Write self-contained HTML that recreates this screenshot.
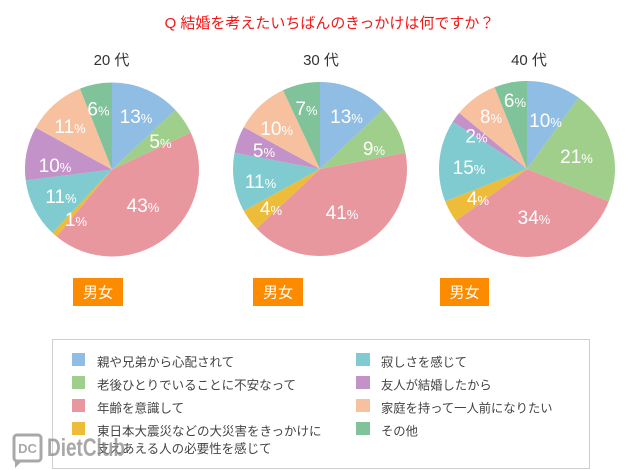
<!DOCTYPE html>
<html><head><meta charset="utf-8"><style>
html,body{margin:0;padding:0;background:#fff;}
svg{display:block;}
text{font-family:"Liberation Sans","Noto Sans CJK JP",sans-serif;}
</style></head><body>
<svg width="640" height="470" viewBox="0 0 640 470" xmlns="http://www.w3.org/2000/svg">
<rect width="640" height="470" fill="#fff"/>
<text x="329.5" y="28" font-size="15" fill="#f01818" text-anchor="middle">Q 結婚を考えたいちばんのきっかけは何ですか？</text>
<g font-size="15" fill="#333" text-anchor="middle">
<text x="111.5" y="65">20 代</text>
<text x="321" y="65">30 代</text>
<text x="529" y="65">40 代</text>
</g>
<!-- Pie 1 -->
<g>
<path d="M112,169.5 L112,82.5 A87,87 0 0,1 175.42,109.95 Z" fill="#8fbde3"/>
<path d="M112,169.5 L175.42,109.95 A87,87 0 0,1 190.72,132.46 Z" fill="#a0cf8c"/>
<path d="M112,169.5 L190.72,132.46 A87,87 0 0,1 56.55,236.53 Z" fill="#e9979f"/>
<path d="M112,169.5 L56.55,236.53 A87,87 0 0,1 52.45,232.92 Z" fill="#edbd3a"/>
<path d="M112,169.5 L52.45,232.92 A87,87 0 0,1 25.69,180.40 Z" fill="#80cbcf"/>
<path d="M112,169.5 L25.69,180.40 A87,87 0 0,1 35.76,127.58 Z" fill="#c292c9"/>
<path d="M112,169.5 L35.76,127.58 A87,87 0 0,1 79.98,88.61 Z" fill="#f7c19f"/>
<path d="M112,169.5 L79.98,88.61 A87,87 0 0,1 112,82.5 Z" fill="#80c29a"/>
</g>
<!-- Pie 2 -->
<g>
<path d="M320,169 L320,82 A87,87 0 0,1 383.42,109.45 Z" fill="#8fbde3"/>
<path d="M320,169 L383.42,109.45 A87,87 0 0,1 405.46,152.70 Z" fill="#a0cf8c"/>
<path d="M320,169 L405.46,152.70 A87,87 0 0,1 256.58,228.55 Z" fill="#e9979f"/>
<path d="M320,169 L256.58,228.55 A87,87 0 0,1 243.76,210.92 Z" fill="#edbd3a"/>
<path d="M320,169 L243.76,210.92 A87,87 0 0,1 234.54,152.70 Z" fill="#80cbcf"/>
<path d="M320,169 L234.54,152.70 A87,87 0 0,1 243.76,127.08 Z" fill="#c292c9"/>
<path d="M320,169 L243.76,127.08 A87,87 0 0,1 282.96,90.28 Z" fill="#f7c19f"/>
<path d="M320,169 L282.96,90.28 A87,87 0 0,1 320,82 Z" fill="#80c29a"/>
</g>
<!-- Pie 3 -->
<g>
<path d="M527,169 L527,81 A88,88 0 0,1 578.73,97.81 Z" fill="#8fbde3"/>
<path d="M527,169 L578.73,97.81 A88,88 0 0,1 608.82,201.39 Z" fill="#a0cf8c"/>
<path d="M527,169 L608.82,201.39 A88,88 0 0,1 455.81,220.73 Z" fill="#e9979f"/>
<path d="M527,169 L455.81,220.73 A88,88 0 0,1 445.18,201.39 Z" fill="#edbd3a"/>
<path d="M527,169 L445.18,201.39 A88,88 0 0,1 452.70,121.85 Z" fill="#80cbcf"/>
<path d="M527,169 L452.70,121.85 A88,88 0 0,1 459.20,112.91 Z" fill="#c292c9"/>
<path d="M527,169 L459.20,112.91 A88,88 0 0,1 494.61,87.18 Z" fill="#f7c19f"/>
<path d="M527,169 L494.61,87.18 A88,88 0 0,1 527,81 Z" fill="#80c29a"/>
</g>
<!-- labels -->
<g fill="#fff" text-anchor="middle" font-size="19">
<text x="136" y="123">13<tspan font-size="13">%</tspan></text>
<text x="160.5" y="148">5<tspan font-size="13">%</tspan></text>
<text x="143" y="212">43<tspan font-size="13">%</tspan></text>
<text x="76" y="226">1<tspan font-size="13">%</tspan></text>
<text x="61" y="203">11<tspan font-size="13">%</tspan></text>
<text x="55" y="172">10<tspan font-size="13">%</tspan></text>
<text x="70" y="133">11<tspan font-size="13">%</tspan></text>
<text x="98.5" y="115.5">6<tspan font-size="13">%</tspan></text>

<text x="346.5" y="123">13<tspan font-size="13">%</tspan></text>
<text x="374" y="155">9<tspan font-size="13">%</tspan></text>
<text x="342" y="219">41<tspan font-size="13">%</tspan></text>
<text x="271" y="215">4<tspan font-size="13">%</tspan></text>
<text x="260.5" y="188">11<tspan font-size="13">%</tspan></text>
<text x="264" y="157">5<tspan font-size="13">%</tspan></text>
<text x="276.7" y="135">10<tspan font-size="13">%</tspan></text>
<text x="306.5" y="115">7<tspan font-size="13">%</tspan></text>

<text x="545.5" y="127">10<tspan font-size="13">%</tspan></text>
<text x="576.5" y="163">21<tspan font-size="13">%</tspan></text>
<text x="534" y="224">34<tspan font-size="13">%</tspan></text>
<text x="478" y="205">4<tspan font-size="13">%</tspan></text>
<text x="469" y="174">15<tspan font-size="13">%</tspan></text>
<text x="476.5" y="142.5">2<tspan font-size="13">%</tspan></text>
<text x="491" y="123">8<tspan font-size="13">%</tspan></text>
<text x="515" y="107">6<tspan font-size="13">%</tspan></text>
</g>
<!-- buttons -->
<g>
<rect x="73" y="278" width="50" height="28" fill="#fc8b00"/>
<rect x="253" y="278" width="50" height="28" fill="#fc8b00"/>
<rect x="440" y="278" width="49" height="28" fill="#fc8b00"/>
<g fill="#fff" font-size="15" text-anchor="middle">
<text x="98" y="297.5">男女</text>
<text x="278" y="297.5">男女</text>
<text x="464.5" y="297.5">男女</text>
</g>
</g>
<!-- legend -->
<rect x="52.5" y="339.5" width="537" height="129" fill="#fff" stroke="#cfcfcf" stroke-width="1"/>
<g>
<rect x="72" y="353" width="13" height="13" fill="#8fbde3"/>
<rect x="72" y="376" width="13" height="13" fill="#a0cf8c"/>
<rect x="72" y="399" width="13" height="13" fill="#e9979f"/>
<rect x="72" y="422" width="13" height="13" fill="#edbd3a"/>
<rect x="356" y="353" width="14" height="13" fill="#80cbcf"/>
<rect x="356" y="376" width="14" height="13" fill="#c292c9"/>
<rect x="356" y="399" width="14" height="13" fill="#f7c19f"/>
<rect x="356" y="422" width="14" height="13" fill="#80c29a"/>
</g>
<g font-size="12.5" fill="#444">
<text x="97" y="366.5">親や兄弟から心配されて</text>
<text x="97" y="389.5">老後ひとりでいることに不安なって</text>
<text x="97" y="412.5">年齢を意識して</text>
<text x="97" y="435.5">東日本大震災などの大災害をきっかけに</text>
<text x="97" y="453">支えあえる人の必要性を感じて</text>
<text x="381" y="366.5" font-size="12.3">寂しさを感じて</text>
<text x="381" y="389.5" font-size="12.3">友人が結婚したから</text>
<text x="381" y="412.5" font-size="12.3">家庭を持って一人前になりたい</text>
<text x="381" y="435.5" font-size="12.3">その他</text>
</g>
<!-- watermark -->
<g opacity="0.75">
<rect x="14" y="435" width="27" height="26" rx="3" fill="none" stroke="#8c8c8c" stroke-width="3"/>
<path d="M15,460 L15,468 L22,461 Z" fill="#8c8c8c"/>
<text x="27.5" y="453" font-size="13" font-weight="bold" fill="#8c8c8c" text-anchor="middle">DC</text>
<text x="47" y="456" font-size="25" font-weight="bold" fill="#8c8c8c" textLength="78" lengthAdjust="spacingAndGlyphs">DietClub</text>
</g>
</svg>
</body></html>
